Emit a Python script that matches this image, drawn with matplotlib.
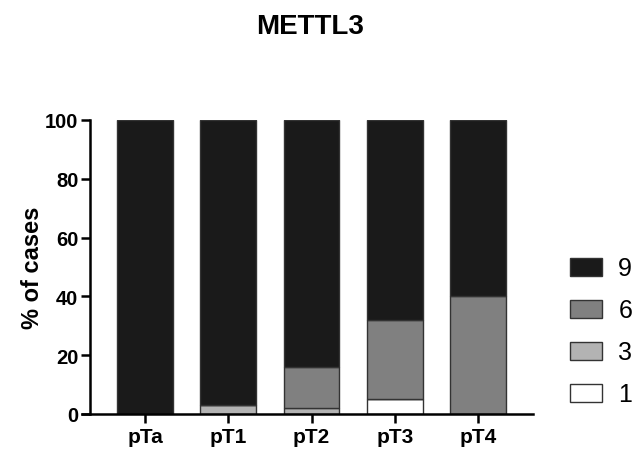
import numpy as np
import matplotlib.pyplot as plt
from matplotlib.patches import Patch

plt.rcParams['font.family'] = ['Liberation Sans', 'DejaVu Sans']

stages = ["pTa", "pT1", "pT2", "pT3", "pT4"]
score1 = [0, 0, 0, 5, 0]
score3 = [0, 3, 2, 0, 0]
score6 = [0, 0, 14, 27, 40]
score9 = [100, 97, 84, 68, 60]

series = [("1", score1, "white"), ("3", score3, "#b3b3b3"),
          ("6", score6, "#808080"), ("9", score9, "#1a1a1a")]

fig = plt.figure(figsize=(6.32, 4.52), dpi=100)
ax = fig.add_axes([82 / 632, 37 / 452, 451 / 632, 294 / 452])

x = np.arange(len(stages))
bottom = np.zeros(len(stages))
for name, vals, col in series:
    ax.bar(x, vals, width=0.67, bottom=bottom, color=col, edgecolor="#333333",
           linewidth=1.0, label=name)
    bottom += np.array(vals)

ax.set_xlim(-0.757, 4.66)
ax.set_ylim(0, 100)
ax.spines["top"].set_visible(False)
ax.spines["right"].set_visible(False)
ax.spines["left"].set_position(("data", -0.66))
for s in ["left", "bottom"]:
    ax.spines[s].set_linewidth(1.8)
ax.spines["left"].set_bounds(0, 100)

ax.set_xticks(x)
ax.set_xticklabels(stages, fontsize=15, fontweight="bold")
ax.set_yticks([0, 20, 40, 60, 80, 100])
ax.set_yticklabels(["0", "20", "40", "60", "80", "100"], fontsize=14.5, fontweight="bold")
ax.tick_params(width=1.8, length=6.5)
ax.tick_params(axis="y", pad=2)
ax.tick_params(axis="x", pad=3)
ax.set_ylabel("% of cases", fontsize=17, fontweight="bold")
ax.yaxis.set_label_coords(-0.085, 0.5)

fig.text(310 / 632, 1 - 27.3 / 452, "METTL3", ha="center", va="center",
         fontsize=20, fontweight="bold")

handles = [Patch(facecolor=c, edgecolor="#333333", linewidth=1.0) for _, _, c in series[::-1]]
labels = [n for n, _, _ in series[::-1]]
fig.legend(handles, labels, loc="center left", bbox_to_anchor=(570 / 632, 1 - 332.5 / 452),
           frameon=False, fontsize=18, handlelength=1.28, handleheight=0.76,
           labelspacing=0.72, handletextpad=0.65, borderpad=0, borderaxespad=0)

plt.savefig("out.png", dpi=100)
